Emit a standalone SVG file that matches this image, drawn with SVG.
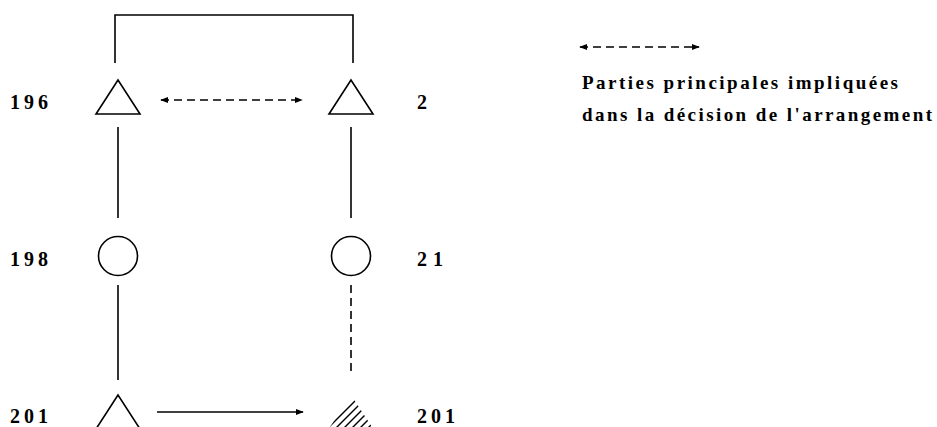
<svg xmlns="http://www.w3.org/2000/svg" width="937" height="427" viewBox="0 0 937 427">
<style>
.ln{stroke:#000;stroke-width:1.6;fill:none}
.dash{stroke:#000;stroke-width:1.6;fill:none;stroke-dasharray:8,5}
.shape{stroke:#000;stroke-width:1.6;fill:#fff}
.num{font-family:"Liberation Serif",serif;font-size:20px;font-weight:bold;fill:#000}
.leg{font-family:"Liberation Serif",serif;font-size:19px;font-weight:bold;fill:#000}
</style>
<defs>
<marker id="ah" viewBox="0 0 10 10" refX="9" refY="5" markerWidth="8" markerHeight="8" markerUnits="userSpaceOnUse" orient="auto-start-reverse">
<path d="M0,1 L10,5 L0,9 Z" fill="#000"/>
</marker>
<clipPath id="tri"><polygon points="351,395 328,430 374,430"/></clipPath>
</defs>
<g id="connectors">
<polyline class="ln" points="115,63 115,15 353,15 353,63"/>
<line class="dash" x1="161" y1="100" x2="302" y2="100" marker-start="url(#ah)" marker-end="url(#ah)"/>
<line class="ln" x1="118" y1="127" x2="118" y2="218"/>
<line class="ln" x1="351" y1="127" x2="351" y2="218"/>
<line class="ln" x1="118" y1="285" x2="118" y2="380"/>
<line class="dash" x1="351" y1="285" x2="351" y2="372"/>
<line class="ln" x1="157" y1="412" x2="303" y2="412" marker-end="url(#ah)"/>
</g>
<g id="n196"><polygon class="shape" points="118,80 96,114 140,114"/><text class="num" x="10" y="109" textLength="38">196</text></g>
<g id="n2"><polygon class="shape" points="351,80 329,114 373,114"/><text class="num" x="417" y="109">2</text></g>
<g id="n198"><circle class="shape" cx="118" cy="256" r="19.5"/><text class="num" x="10" y="266" textLength="38">198</text></g>
<g id="n21"><circle class="shape" cx="351" cy="256" r="19.5"/><text class="num" x="417" y="266" textLength="26">21</text></g>
<g id="n201a"><polygon class="shape" points="118,395 96,429 140,429"/><text class="num" x="10" y="423" textLength="38">201</text></g>
<g id="n201b">
<g clip-path="url(#tri)" stroke="#000" stroke-width="1.4">
<line x1="316" y1="440" x2="361" y2="395"/>
<line x1="324" y1="440" x2="369" y2="395"/>
<line x1="332" y1="440" x2="377" y2="395"/>
<line x1="340" y1="440" x2="385" y2="395"/>
<line x1="348" y1="440" x2="393" y2="395"/>
<line x1="356" y1="440" x2="401" y2="395"/>
</g>
<text class="num" x="417" y="423" textLength="38">201</text>
</g>
<g id="legend">
<line class="dash" x1="580" y1="47" x2="699" y2="47" marker-start="url(#ah)" marker-end="url(#ah)"/>
<text class="leg" x="582" y="89" textLength="316">Parties principales impliquées</text>
<text class="leg" x="582" y="121" textLength="350">dans la décision de l'arrangement</text>
</g>
</svg>
